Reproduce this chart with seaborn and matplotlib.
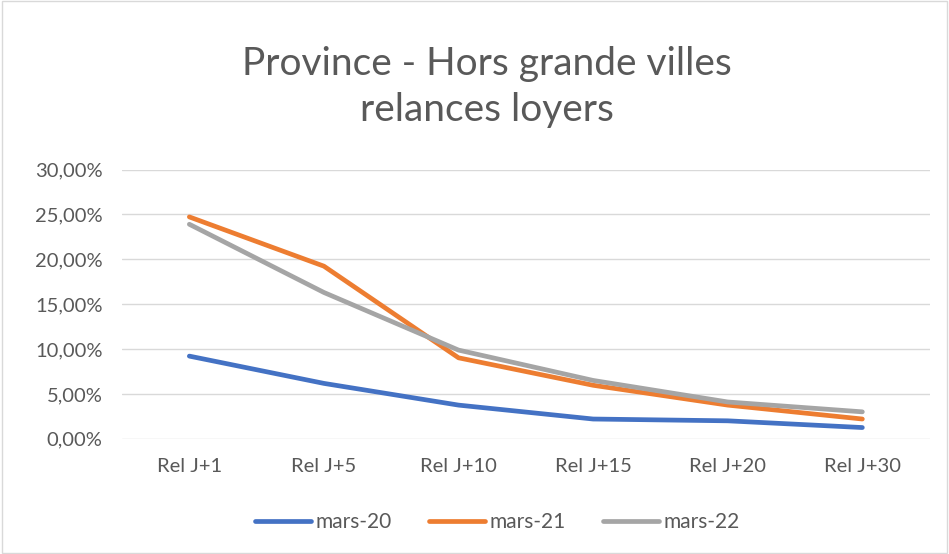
import matplotlib.pyplot as plt
import seaborn as sns
import pandas as pd
from matplotlib.ticker import FuncFormatter

categories = ['Rel J+1', 'Rel J+5', 'Rel J+10', 'Rel J+15', 'Rel J+20', 'Rel J+30']
mars_20 = [0.0921, 0.0617, 0.0375, 0.0220, 0.0200, 0.0125]
mars_21 = [0.2472, 0.1923, 0.0902, 0.0596, 0.0375, 0.0220]
mars_22 = [0.2390, 0.1630, 0.0988, 0.0650, 0.0410, 0.0300]
series_names = ['mars-20', 'mars-21', 'mars-22']
colors = ['#4472C4', '#ED7D31', '#A5A5A5']

rows = []
for name, vals in zip(series_names, [mars_20, mars_21, mars_22]):
    for i, (cat, v) in enumerate(zip(categories, vals)):
        rows.append({'pos': i, 'cat': cat, 'val': v, 'serie': name})
df = pd.DataFrame(rows)

sns.set_theme(style='white')
plt.rcParams['font.family'] = ['Lato', 'DejaVu Sans']
text_col = '#595959'

fig = plt.figure(figsize=(9.49, 5.54), dpi=100)
ax = fig.add_axes([0.1286, 0.208, 0.851, 0.486])

sns.lineplot(data=df, x='pos', y='val', hue='serie', palette=colors, ax=ax,
             linewidth=3.4, legend=True, solid_capstyle='round')

ax.set_xlim(-0.5, 5.5)
ax.set_ylim(0, 0.30)
ax.set_xticks(range(len(categories)))
ax.set_xticklabels(categories)
ax.set_yticks([0, 0.05, 0.10, 0.15, 0.20, 0.25, 0.30])
ax.yaxis.set_major_formatter(FuncFormatter(lambda v, p: f'{v*100:.2f}%'.replace('.', ',')))
ax.tick_params(axis='both', colors=text_col, labelsize=14.5, length=0)
ax.tick_params(axis='x', pad=14)
ax.tick_params(axis='y', pad=14)
ax.grid(axis='y', color='#D9D9D9', linewidth=1)
ax.set_axisbelow(True)
for s in ax.spines.values():
    s.set_visible(False)
ax.set_xlabel('')
ax.set_ylabel('')

ax.legend_.remove()
handles, labels = ax.get_legend_handles_labels()
fig.legend(handles, labels, loc='center', bbox_to_anchor=(0.524, 0.058), ncol=3,
           frameon=False, fontsize=15, labelcolor=text_col, handlelength=2.7,
           handletextpad=0.2, columnspacing=1.8)

fig.text(0.513, 0.843, 'Province - Hors grande villes\nrelances loyers', ha='center', va='center',
         fontsize=28, color=text_col, linespacing=1.32)

fig.patches.append(plt.Rectangle((0.002, 0.002), 0.996, 0.996, transform=fig.transFigure,
                                 fill=False, edgecolor='#D9D9D9', linewidth=1))

fig.savefig('out.png', dpi=100)
